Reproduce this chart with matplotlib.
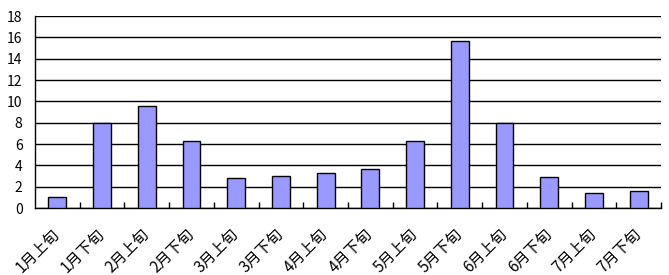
import matplotlib
matplotlib.use('Agg')
import matplotlib.pyplot as plt
import matplotlib.transforms as mtransforms
import numpy as np

plt.rcParams['font.family'] = ['Noto Sans CJK JP', 'DejaVu Sans']

labels = ['1月上旬', '1月下旬', '2月上旬', '2月下旬', '3月上旬', '3月下旬', '4月上旬',
          '4月下旬', '5月上旬', '5月下旬', '6月上旬', '6月下旬', '7月上旬', '7月下旬']
values = [1.0, 8.0, 9.6, 6.3, 2.8, 3.0, 3.3, 3.7, 6.3, 15.7, 8.0, 2.9, 1.4, 1.6]

fig = plt.figure(figsize=(6.69, 2.75), dpi=100)
ax = fig.add_axes([35/669, 67/275, 626/669, 192/275])

x = np.arange(len(labels))
ax.bar(x, values, width=0.4, color='#9999ff', edgecolor='black', linewidth=1, zorder=3)

ax.set_xlim(-0.5, len(labels) - 0.5)
ax.set_ylim(0, 18)
ax.set_yticks(range(0, 19, 2))
ax.yaxis.grid(True, color='black', linewidth=1)
ax.set_axisbelow(True)

# tick marks between categories, labels at centers
ax.set_xticks(x)
ax.set_xticklabels(labels, rotation=45, ha='right', va='top', fontsize=11,
                   rotation_mode='anchor')
ax.set_xticks(np.arange(0.5, len(labels), 1), minor=True)
ax.tick_params(axis='x', which='major', length=0, pad=13)
ax.tick_params(axis='x', which='minor', direction='in', length=4, width=1)
ax.tick_params(axis='y', length=0, labelsize=10, pad=9)

shift = mtransforms.ScaledTranslation(-6/100, 0, fig.dpi_scale_trans)
for lab in ax.get_xticklabels():
    lab.set_transform(lab.get_transform() + shift)

for s in ['top', 'right']:
    ax.spines[s].set_visible(False)
ax.spines['left'].set_linewidth(1)
ax.spines['bottom'].set_linewidth(1)

fig.savefig('out.png', dpi=100)
